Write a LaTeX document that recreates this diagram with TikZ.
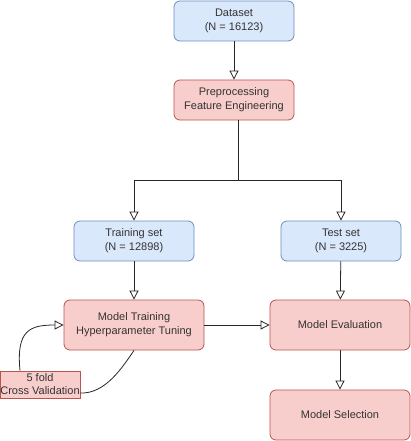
\documentclass[tikz,border=0pt]{standalone}
\usepackage{fontspec}
\setmainfont{Liberation Sans}
\usetikzlibrary{arrows.meta,calc}

\definecolor{bluefill}{HTML}{DAE8FC}
\definecolor{bluedraw}{HTML}{6C8EBF}
\definecolor{redfill}{HTML}{F8CECC}
\definecolor{reddraw}{HTML}{B85450}

\begin{document}
\begin{tikzpicture}[x=1pt,y=-1pt,
		box/.style={rounded corners=6pt,line width=0.8pt,minimum width=120pt,minimum height=40pt,inner sep=0pt,align=center,text=black!80,font=\fontsize{11}{14}\selectfont},
		bluebox/.style={box,fill=bluefill,draw=bluedraw},
		redbox/.style={box,fill=redfill,draw=reddraw},
		wide/.style={minimum width=140pt,minimum height=50pt},
		arr/.style={-{Triangle[open,length=9pt,width=9pt]}},
		line/.style={draw=black!85,line width=0.8pt}]
				\useasboundingbox (0,0) rectangle (411,441);
				% boxes
				\node[bluebox] (data) at (234,21) {Dataset\\(N = 16123)};
				\node[redbox] (prep) at (234,100) {Preprocessing\\Feature Engineering};
				\node[bluebox] (train) at (134,241) {Training set\\(N = 12898)};
				\node[bluebox] (test) at (341,241) {Test set\\(N = 3225)};
				\node[redbox,wide] (fit) at (134,325) {Model Training\\Hyperparameter Tuning};
				\node[redbox,wide] (eval) at (340,325) {Model Evaluation};
				\node[redbox,wide] (select) at (340,415) {Model Selection};
				\node[draw=reddraw,fill=redfill,line width=0.8pt,minimum width=80pt,minimum height=27pt,inner sep=0pt,align=center,text=black!80,font=\fontsize{11}{13}\selectfont] (cv) at (40,384.5) {5 fold\\Cross Validation};
				\coordinate (split) at (238,180);
				% connectors
				\draw[line,arr] (data) -- (prep);
				\draw[line] (prep.south -| split) -- (split);
				\draw[line,arr] (split) -| (train);
				\draw[line,arr] (split) -| (test);
				\draw[line,arr] (train) -- (fit);
				\draw[line,arr] (test) -- (eval);
				\draw[line,arr] (fit) -- (eval);
				\draw[line,arr] (eval) -- (select);
				\draw[line] (fit.south) .. controls (122,368) and (105,394) .. (cv.east |- 0,393);
				\draw[line,arr] (cv.north -| 20,0) .. controls (16,330) and (30,325) .. (fit.west);
				\end{tikzpicture}
\end{document}
